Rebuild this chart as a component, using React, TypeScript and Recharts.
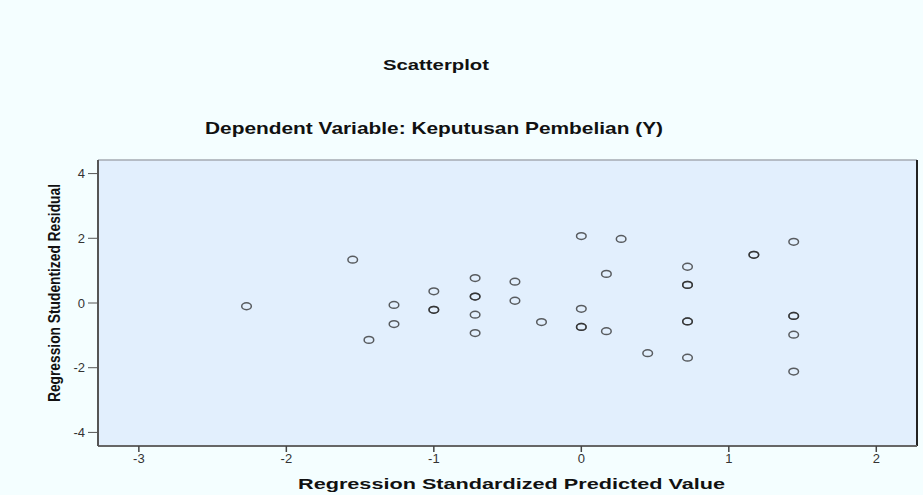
import React from "react";
import {
  ScatterChart,
  Scatter,
  XAxis,
  YAxis,
  CartesianGrid,
  ReferenceLine,
} from "recharts";

// predicted (x) and studentized residual (y); repeated rows = overlapping cases
const predicted = [
  -2.27, -1.55, -1.27, -1.27, -1.44, -1.0, -1.0, -1.0,
  -0.72, -0.72, -0.72, -0.72, -0.72, -0.45, -0.45, -0.27,
  0.0, 0.0, 0.0, 0.0, 0.17, 0.17, 0.27, 0.45,
  0.72, 0.72, 0.72, 0.72, 0.72, 0.72, 1.17, 1.17,
  1.44, 1.44, 1.44, 1.44, 1.44,
];
const residual = [
  -0.1, 1.34, -0.06, -0.65, -1.14, 0.36, -0.21, -0.21,
  0.77, 0.2, 0.2, -0.36, -0.93, 0.66, 0.07, -0.59,
  2.07, -0.18, -0.74, -0.74, 0.9, -0.87, 1.98, -1.55,
  1.12, 0.56, 0.56, -0.57, -0.57, -1.69, 1.49, 1.49,
  1.89, -0.4, -0.4, -0.98, -2.12,
];

const xTicks = [-3, -2, -1, 0, 1, 2];
const yTicks = [-4, -2, 0, 2, 4];

const data = predicted.map((x, i) => ({ x, y: residual[i] }));

const X_MIN = -3.277;
const X_MAX = 2.276;
const Y_MIN = -4.42;
const Y_MAX = 4.42;

const tickStyle = { fontSize: 13, fill: "#333", fontFamily: "Liberation Sans, Arial" };

const RingShape = (props: any) => {
  const { cx, cy } = props;
  return (
    <ellipse
      cx={cx}
      cy={cy}
      rx={4.8}
      ry={3.4}
      fill="none"
      stroke="#2a2a2a"
      strokeOpacity={0.75}
      strokeWidth={1.5}
    />
  );
};

export default function App() {
  return (
    <div
      style={{
        position: "absolute",
        left: 0,
        top: 0,
        width: 923,
        height: 495,
        background: "#f4feff",
      }}
    >
      <ScatterChart
        width={923}
        height={495}
        margin={{ top: 160, right: 6, bottom: 19, left: 0 }}
      >
        <CartesianGrid fill="#e2effd" horizontal={false} vertical={false} />
        <XAxis
          type="number"
          dataKey="x"
          domain={[X_MIN, X_MAX]}
          ticks={xTicks}
          height={30}
          tickSize={6}
          tickMargin={2}
          tick={tickStyle}
          axisLine={{ stroke: "#666", strokeWidth: 2 }}
          tickLine={{ stroke: "#444", strokeWidth: 1.5 }}
          allowDataOverflow
        />
        <YAxis
          type="number"
          dataKey="y"
          domain={[Y_MIN, Y_MAX]}
          ticks={yTicks}
          width={98}
          tickSize={10}
          tickMargin={3}
          tick={tickStyle}
          axisLine={{ stroke: "#555", strokeWidth: 2 }}
          tickLine={{ stroke: "#555", strokeWidth: 1 }}
          allowDataOverflow
        />
        <ReferenceLine y={Y_MAX} stroke="#a4aab2" strokeWidth={1.5} />
        <ReferenceLine x={X_MAX} stroke="#222" strokeWidth={2} />
        <Scatter data={data} shape={RingShape} isAnimationActive={false} />
      </ScatterChart>
      <svg
        width={923}
        height={495}
        style={{ position: "absolute", left: 0, top: 0, pointerEvents: "none" }}
        fontFamily="Liberation Sans, Arial"
        fontWeight="bold"
        fill="#111"
      >
        <text x={383} y={70} fontSize={15} textLength={106} lengthAdjust="spacingAndGlyphs">
          Scatterplot
        </text>
        <text x={205} y={134} fontSize={17} textLength={458} lengthAdjust="spacingAndGlyphs">
          Dependent Variable: Keputusan Pembelian (Y)
        </text>
        <text x={298} y={489} fontSize={15} textLength={427} lengthAdjust="spacingAndGlyphs">
          Regression Standardized Predicted Value
        </text>
        <text
          x={0}
          y={0}
          fontSize={16}
          textLength={218}
          lengthAdjust="spacingAndGlyphs"
          transform="translate(60 402) rotate(-90)"
        >
          Regression Studentized Residual
        </text>
      </svg>
    </div>
  );
}
